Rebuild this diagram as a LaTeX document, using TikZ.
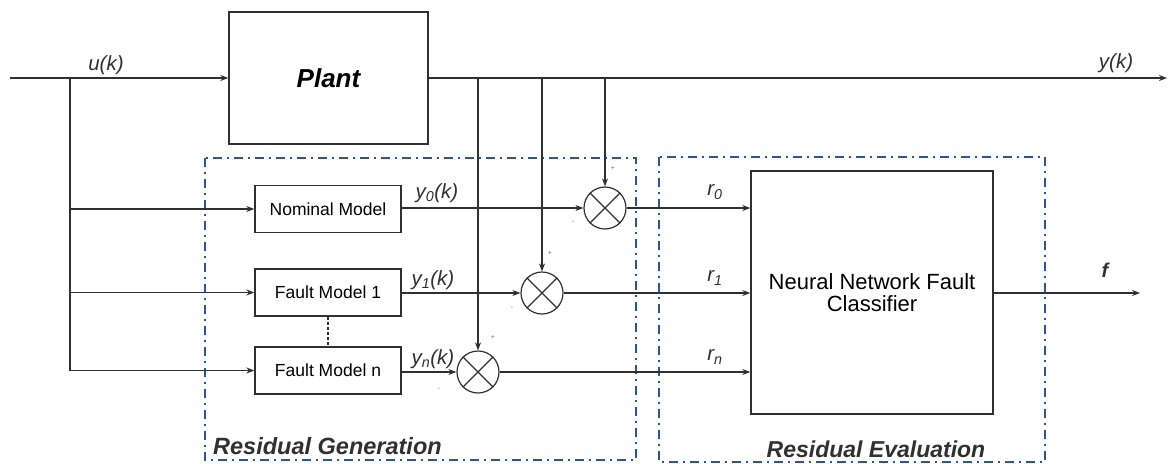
\documentclass[tikz,border=0pt]{standalone}
\usepackage{fontspec}
\setmainfont{Liberation Sans}
\usetikzlibrary{arrows.meta}
\definecolor{dashblue}{HTML}{2F5590}
\definecolor{ink}{HTML}{303030}
\begin{document}
\begin{tikzpicture}[x=1pt,y=-1pt,
  blk/.style={draw=ink, line width=1.4pt, fill=white, inner sep=0pt, align=center},
  sig/.style={draw=ink, line width=1.2pt},
  arr/.style={sig, -{Stealth[length=8pt,width=6pt]}},
  sumj/.style={circle, draw=ink, line width=1.2pt, minimum size=42pt, inner sep=0pt},
  grp/.style={draw=dashblue, line width=1.8pt, dash pattern=on 9pt off 5pt on 2pt off 5pt},
  lab/.style={font=\fontsize{20.5}{24}\selectfont\itshape, inner sep=0pt, text=ink},
  pm/.style={font=\fontsize{7}{8}\selectfont, text=black!55, inner sep=0pt},
  mdl/.style={blk, minimum width=146pt, minimum height=47pt, font=\fontsize{17.5}{20}\selectfont}
]
\useasboundingbox (0,0) rectangle (1169,463);

% group boxes
\draw[grp] (205,158) rectangle (636,460);
\draw[grp] (659,157) rectangle (1045,462);

% blocks
\node[blk, minimum width=199pt, minimum height=132pt, font=\fontsize{26}{30}\selectfont\bfseries\itshape] (plant) at (328.5,78) {Plant};
\node[mdl] (nom) at (328,209) {Nominal Model};
\node[mdl] (f1) at (328,292.5) {Fault Model 1};
\node[mdl] (fn) at (328,370.5) {Fault Model n};
\node[blk, minimum width=242pt, minimum height=243pt, font=\fontsize{22}{25}\selectfont] (nn) at (872,292.5) {Neural Network Fault\\[-3pt]Classifier};

% summing junctions
\node[sumj] (s1) at (605,208) {};
\node[sumj] (s2) at (542,293) {};
\node[sumj] (s3) at (478,372) {};
\foreach \s in {s1,s2,s3}{
  \draw[sig] (\s.north west) -- (\s.south east);
  \draw[sig] (\s.north east) -- (\s.south west);
}

% coordinates
\coordinate (uin) at (10,78);
\coordinate (br) at (70,78);
\coordinate (yout) at (1167,78);
\coordinate (fout) at (1140,293);

% main signal path
\draw[arr] (uin) -- (plant.west);
\draw[arr] (plant.east) -- (yout);

% branches to models
\draw[sig] (br) -- (br |- fn.west);
\draw[arr] (br |- nom.west) -- (nom.west);
\draw[arr] (br |- f1.west) -- (f1.west);
\draw[arr] (br |- fn.west) -- (fn.west);

% model outputs to sums
\draw[arr] (nom.east |- s1.west) -- (s1.west);
\draw[arr] (f1.east |- s2.west) -- (s2.west);
\draw[arr] (fn.east |- s3.west) -- (s3.west);

% plant output drops
\draw[arr] (s1.north |- plant.east) -- (s1.north);
\draw[arr] (s2.north |- plant.east) -- (s2.north);
\draw[arr] (s3.north |- plant.east) -- (s3.north);

% residuals to classifier
\draw[arr] (s1.east) -- (s1.east -| nn.west);
\draw[arr] (s2.east) -- (s2.east -| nn.west);
\draw[arr] (s3.east) -- (s3.east -| nn.west);
\draw[arr] (nn.east |- fout) -- (fout);

% dotted link between fault models
\draw[draw=ink, line width=1.1pt, dash pattern=on 3pt off 2pt] (f1.south) -- (fn.north);

% signs
\node[pm] (p1) at ([shift={(8,-40)}]s1.center) {+};
\node[pm] (m1) at ([shift={(-32,14)}]s1.center) {-};
\node[pm] (p2) at ([shift={(8,-40)}]s2.center) {+};
\node[pm] (m2) at ([shift={(-30,15)}]s2.center) {-};
\node[pm] (p3) at ([shift={(15,-35)}]s3.center) {+};
\node[pm] (m3) at ([shift={(-39,17)}]s3.center) {-};

% labels
\node[lab] (lu) at (106,65) {u(k)};
\node[lab] (ly) at (1116,63) {y(k)};
\node[lab] (ly0) at (437,193) {y\textsubscript{0}(k)};
\node[lab] (ly1) at (433,280) {y\textsubscript{1}(k)};
\node[lab] (lyn) at (433,359) {y\textsubscript{n}(k)};
\node[lab] (lr0) at (715,192) {r\textsubscript{0}};
\node[lab] (lr1) at (715,278) {r\textsubscript{1}};
\node[lab] (lrn) at (715,357) {r\textsubscript{n}};
\node[lab, font=\fontsize{20}{24}\selectfont\bfseries\itshape] (lf) at (1105,270) {f};
\node[lab, anchor=west, font=\fontsize{23.5}{26}\selectfont\bfseries\itshape] (lgen) at (213,446) {Residual Generation};
\node[lab, font=\fontsize{23}{26}\selectfont\bfseries\itshape] (leval) at (876,449) {Residual Evaluation};
\end{tikzpicture}
\end{document}
